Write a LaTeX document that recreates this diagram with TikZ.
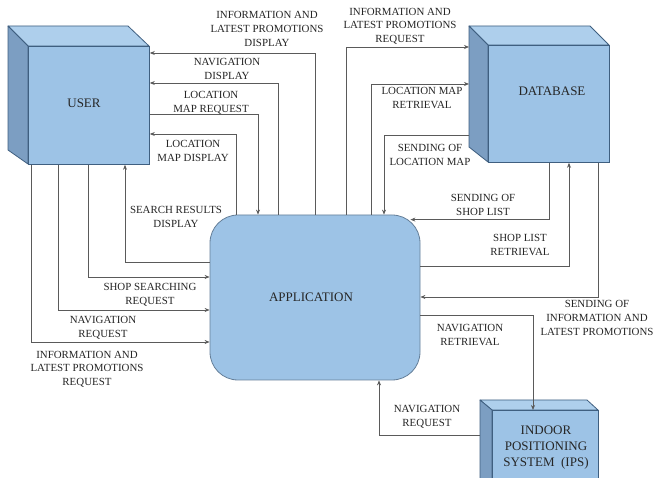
\documentclass[tikz,border=0pt]{standalone}
\usepackage{fontspec}
\setmainfont{Liberation Serif}
\usetikzlibrary{arrows.meta,calc}
\definecolor{frontc}{HTML}{9DC3E6}
\definecolor{topc}{HTML}{AECFEC}
\definecolor{sidec}{HTML}{7C9EC2}
\definecolor{edgec}{HTML}{3F5F80}
\definecolor{linec}{HTML}{5A5A5A}
\definecolor{txtc}{HTML}{262626}
\tikzset{
  face/.style={fill=frontc,draw=edgec,line width=0.8pt},
  topface/.style={fill=topc,draw=edgec,line width=0.8pt,line join=round},
  sideface/.style={fill=sidec,draw=edgec,line width=0.8pt,line join=round},
  boxlabel/.style={font=\fontsize{13}{16}\selectfont,text=txtc,align=center},
  lbl/.style={font=\fontsize{10.9}{13.6}\selectfont,text=txtc,align=center,inner sep=0pt},
  flow/.style={draw=linec,line width=0.7pt,-{Stealth[length=5pt,width=4pt]}},
  appbox/.style={fill=frontc,draw=edgec!80,line width=0.8pt,rounded corners=28pt,minimum width=210pt,minimum height=165pt,inner sep=0pt}
}
\begin{document}
\begin{tikzpicture}[x=1pt,y=-1pt]
\clip (0,0) rectangle (657,478);
\fill[white] (0,0) rectangle (657,478);

% USER cube
\path[topface] (8,26) -- (128,26) -- (149,46) -- (28,46) -- cycle;
\path[sideface] (8,26) -- (28,46) -- (28,164) -- (8,150) -- cycle;
\node[face,minimum width=121pt,minimum height=118pt,inner sep=0pt,anchor=north west] (user) at (28,46) {};
\node[boxlabel] (userlbl) at (84,103) {USER};

% DATABASE cube
\path[topface] (469,26) -- (590,26) -- (609,45) -- (488,45) -- cycle;
\path[sideface] (469,26) -- (488,45) -- (488,162) -- (469,147) -- cycle;
\node[face,minimum width=121pt,minimum height=117pt,inner sep=0pt,anchor=north west] (db) at (488,45) {};
\node[boxlabel] (dblbl) at (552,91) {DATABASE};

% IPS cube
\path[topface] (480,400) -- (587,400) -- (598,410) -- (492,410) -- cycle;
\path[sideface] (480,400) -- (492,410) -- (492,490) -- (480,490) -- cycle;
\node[face,minimum width=106pt,minimum height=80pt,inner sep=0pt,anchor=north west] (ips) at (492,410) {};
\node[boxlabel] (ipslbl) at (546,448) {INDOOR\\POSITIONING\\SYSTEM\ \ (IPS)};

% APPLICATION
\node[appbox] (app) at (315,297.5) {};
\node[boxlabel] (applbl) at (311,297) {APPLICATION};

% connectors USER <-> APPLICATION
\draw[flow] (315,0 |- app.north) |- (user.east |- 0,53);
\draw[flow] (278,0 |- app.north) |- (user.east |- 0,83);
\draw[flow] (user.east |- 0,114) -| (258,0 |- app.north);
\draw[flow] (236,0 |- app.north) |- (user.east |- 0,134);
\draw[flow] (app.west |- 0,262) -| (125,0 |- user.south);
\draw[flow] (88,0 |- user.south) |- (app.west |- 0,277);
\draw[flow] (58,0 |- user.south) |- (app.west |- 0,310);
\draw[flow] (31,0 |- user.south) |- (app.west |- 0,342);

% connectors APPLICATION <-> DATABASE
\draw[flow] (346,0 |- app.north) |- (469,47);
\draw[flow] (371,0 |- app.north) |- (469,84);
\draw[flow] (469,135) -| (384,0 |- app.north);
\draw[flow] (549,0 |- db.south) |- ($(app.north east)+(-10,5)$);
\draw[flow] (app.east |- 0,266) -| (569,0 |- db.south);
\draw[flow] (598,0 |- db.south) |- (app.east |- 0,297);

% connectors APPLICATION <-> IPS
\draw[flow] (app.east |- 0,315) -| (533,0 |- ips.north);
\draw[flow] (480,435) -| (379,0 |- app.south);

% labels
\node[lbl] (l1) at (267,29) {INFORMATION AND\\LATEST PROMOTIONS\\DISPLAY};
\node[lbl] (l2) at (227,69) {NAVIGATION\\DISPLAY};
\node[lbl] (l3) at (211,103) {LOCATION\\MAP REQUEST};
\node[lbl] (l4) at (193,151) {LOCATION\\MAP DISPLAY};
\node[lbl] (l5) at (176,217) {SEARCH RESULTS\\DISPLAY};
\node[lbl] (l6) at (150,295) {SHOP SEARCHING\\REQUEST};
\node[lbl] (l7) at (103,328) {NAVIGATION\\REQUEST};
\node[lbl] (l8) at (87,369) {INFORMATION AND\\LATEST PROMOTIONS\\REQUEST};
\node[lbl] (l9) at (400,26) {INFORMATION AND\\LATEST PROMOTIONS\\REQUEST};
\node[lbl] (l10) at (422,98) {LOCATION MAP\\RETRIEVAL};
\node[lbl] (l11) at (430,155) {SENDING OF\\LOCATION MAP};
\node[lbl] (l12) at (483,205) {SENDING OF\\SHOP LIST};
\node[lbl] (l13) at (520,245) {SHOP LIST\\RETRIEVAL};
\node[lbl] (l14) at (597,318) {SENDING OF\\INFORMATION AND\\LATEST PROMOTIONS};
\node[lbl] (l15) at (470,335) {NAVIGATION\\RETRIEVAL};
\node[lbl] (l16) at (427,417) {NAVIGATION\\REQUEST};
\end{tikzpicture}
\end{document}
